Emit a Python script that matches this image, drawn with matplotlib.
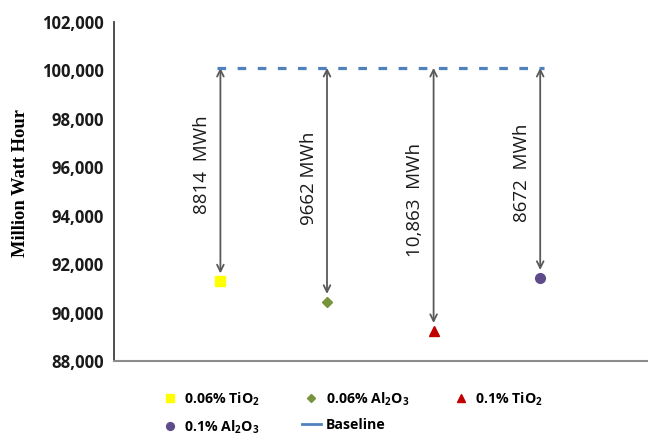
import matplotlib.pyplot as plt
from matplotlib.lines import Line2D
from matplotlib.ticker import FuncFormatter

plt.rcParams['mathtext.default'] = 'regular'

baseline = 100100
labels = ["0.06% TiO$_2$", "0.06% Al$_2$O$_3$", "0.1% TiO$_2$", "0.1% Al$_2$O$_3$"]
savings = [8814, 9662, 10863, 8672]
savings_text = ["8814  MWh", "9662 MWh", "10,863  MWh", "8672  MWh"]
values = [baseline - s for s in savings]

colors = ["#FFFF00", "#77933C", "#C00000", "#5F4B8B"]
markers = ["s", "D", "^", "o"]
sizes = [7, 5, 7, 7]
label_y = [96100, 95560, 94650, 95770]

fig = plt.figure(figsize=(6.54, 4.37), dpi=100)
ax = fig.add_axes([0.174, 0.174, 0.815, 0.776])

xs = [1, 2, 3, 4]
handles = []
for x, v, c, m, s, lab in zip(xs, values, colors, markers, sizes, labels):
    h, = ax.plot(x, v, marker=m, color=c, markersize=s, linestyle="none", label=lab, zorder=4)
    handles.append(h)
    ax.annotate("", xy=(x, v + 330), xytext=(x, baseline),
                arrowprops=dict(arrowstyle="<->", color="#595959", lw=1.3,
                                shrinkA=0, shrinkB=0, mutation_scale=12))

for x, t, ly in zip(xs, savings_text, label_y):
    ax.text(x - 0.17, ly, t, rotation=90, ha="center", va="center",
            fontsize=13.5, family="Open Sans", color="#1a1a1a")

ax.plot([0.97, 4.04], [baseline, baseline], color="#4F81BD", lw=2.3,
        dashes=(2.7, 3.6), zorder=3)

ax.set_xlim(0, 5)
ax.set_ylim(88000, 102000)
ax.set_yticks(range(88000, 102001, 2000))
ax.yaxis.set_major_formatter(FuncFormatter(lambda v, p: f"{int(v):,}"))
ax.set_xticks([])
ax.tick_params(axis="y", length=0, pad=7, labelsize=12, labelcolor="#1a1a1a")
for lbl in ax.get_yticklabels():
    lbl.set_fontfamily("Open Sans")
    lbl.set_fontweight("bold")

ax.spines["top"].set_visible(False)
ax.spines["right"].set_visible(False)
ax.spines["left"].set_color("#404040")
ax.spines["left"].set_linewidth(1.3)
ax.spines["bottom"].set_color("#8c8c8c")
ax.spines["bottom"].set_linewidth(1.5)

fig.text(0.032, 0.581, "Million Watt Hour", rotation=90, ha="center", va="center",
         fontsize=13.3, family="Liberation Serif", fontweight="bold")

base_handle = Line2D([], [], color="#4F81BD", lw=2)
order = [handles[0], handles[3], handles[1], base_handle, handles[2]]
names = [labels[0], labels[3], labels[1], "Baseline", labels[2]]
leg = fig.legend(order, names, ncol=3, loc="lower left", bbox_to_anchor=(0.226, -0.026),
                 frameon=False, handlelength=1.3, handletextpad=0.35, columnspacing=3.0,
                 labelspacing=0.75, markerscale=0.8,
                 prop={"family": "Open Sans", "weight": "bold", "size": 10.2})
leg.legend_handles[3].set_linewidth(2)

fig.savefig("out.png", dpi=100)
